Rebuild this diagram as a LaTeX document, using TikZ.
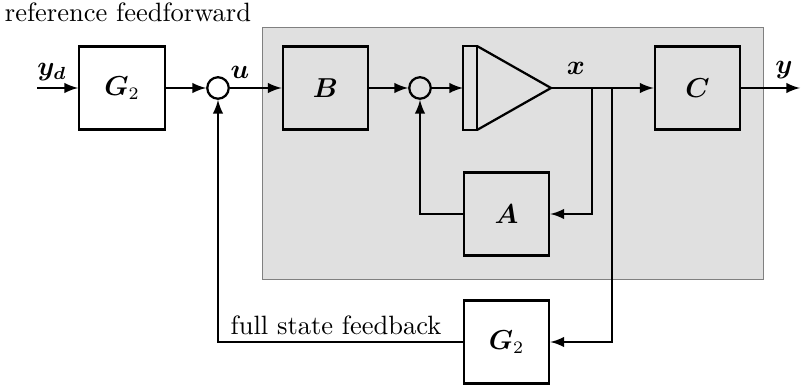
\documentclass[tikz,border=0pt]{standalone}
\usepackage{amsmath,amssymb}
\usepackage{tikz}
\usetikzlibrary{arrows}
\definecolor{plantgray}{RGB}{224,224,224}

\tikzset{
  every node/.style={font=\fontsize{10.6}{12.7}\selectfont},
  blk/.style={draw, line width=0.9pt, minimum width=34.2pt, minimum height=33.2pt, inner sep=0pt},
  sumnode/.style={draw, line width=0.9pt, circle, minimum size=8.6pt, inner sep=0pt},
  sig/.style={->, >=latex, line width=0.9pt},
}

\begin{document}
\begin{tikzpicture}[x=0.4pt, y=0.4pt]
      \useasboundingbox (0,0) rectangle (805,392);
      % Plant (shaded region)
      \draw[gray, thin, fill=plantgray] (262,112) rectangle (763,364);
      % Blocks
      \node[blk] (G2top) at (122,304) {$\boldsymbol{G}_2$};
      \node[blk] (B)     at (325.5,304) {$\boldsymbol{B}$};
      \node[blk] (C)     at (697.5,304) {$\boldsymbol{C}$};
      \node[blk] (A)     at (506.5,178) {$\boldsymbol{A}$};
      \node[blk] (G2bot) at (506.5,50) {$\boldsymbol{G}_2$};
      % Summing junctions
      \node[sumnode] (sum1) at (218,304) {};
      \node[sumnode] (sum2) at (420,304) {};
      % Integrator: bar plus triangle
      \draw[line width=0.9pt] (463,262) rectangle (477,346);
      \draw[line width=0.9pt] (477,346) -- (551,304) -- (477,262);
      \coordinate (intin)  at (463,304);
      \coordinate (intout) at (551,304);
      % Free ends and branch points
      \coordinate (ydin) at (37,304);
      \coordinate (yout) at (800,304);
      \coordinate (br1)  at (592,304);
      \coordinate (br2)  at (612,304);
      % Forward path
      \draw[sig] (ydin) -- (G2top);
      \draw[sig] (G2top) -- (sum1);
      \draw[sig] (sum1) -- (B);
      \draw[sig] (B) -- (sum2);
      \draw[sig] (sum2) -- (intin);
      \draw[sig] (intout) -- (C);
      \draw[sig] (C) -- (yout);
      % Inner loop through A
      \draw[sig] (br1) |- (A);
      \draw[sig] (A) -| (sum2);
      % State feedback through G2
      \draw[sig] (br2) |- (G2bot);
      \draw[sig] (G2bot) -| (sum1);
      % Signal labels
      \node (lyd) at (52,320) {$\boldsymbol{y_d}$};
      \node (lu)  at (240,320) {$\boldsymbol{u}$};
      \node (lx)  at (576,324) {$\boldsymbol{x}$};
      \node (ly)  at (784,322) {$\boldsymbol{y}$};
      \node (lff) at (128,380) {reference feedforward};
      \node (lfb) at (336,67) {full state feedback};
    \end{tikzpicture}
\end{document}
